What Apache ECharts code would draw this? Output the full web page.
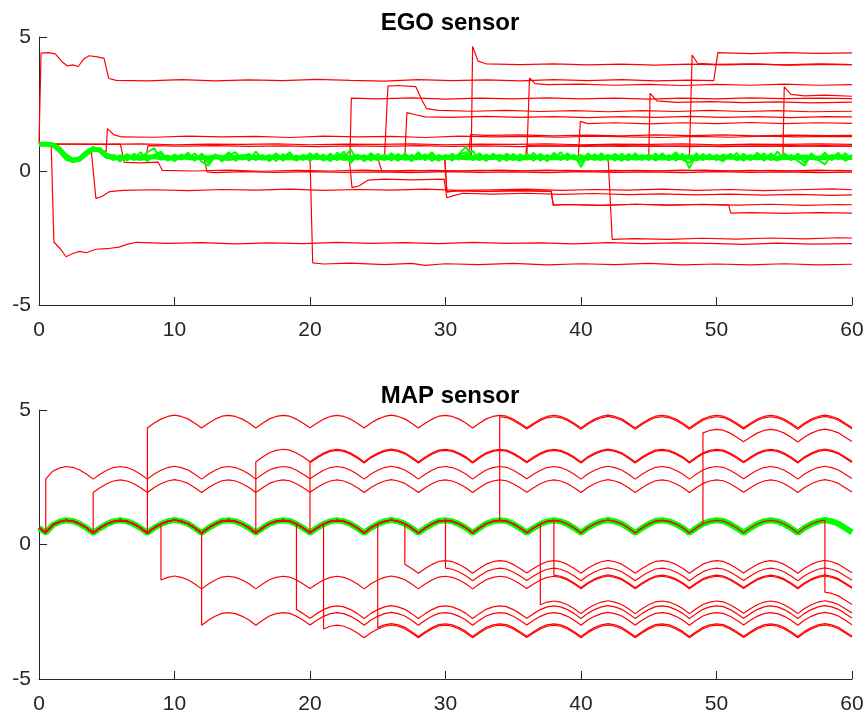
<!DOCTYPE html>
<html><head><meta charset="utf-8">
<script src="https://cdn.jsdelivr.net/npm/echarts@6/dist/echarts.min.js"></script>
<style>html,body{margin:0;padding:0;background:#fff}#c{width:866px;height:715px}</style>
</head><body><div id="c"></div>
<script>
const titles = ['EGO sensor', 'MAP sensor'];
const xMin = 0, xMax = 60, xStep = 10;
const yMin = -5, yMax = 5, yStep = 5;
const sampleStep = 0.5;

// EGO nominal (green band centre), samples every 0.5 s from 0 to 60
const egoNominal = [1.0,1.0,0.98,0.82,0.52,0.4,0.45,0.68,0.82,0.78,0.55,
0.5,0.48,0.52,0.5,0.47,0.51,0.53,0.49,0.5,0.47,
0.52,0.5,0.48,0.51,0.49,0.53,0.5,0.47,0.5,0.52,
0.49,0.51,0.48,0.5,0.53,0.49,0.5,0.47,0.51,0.5,
0.52,0.48,0.5,0.51,0.47,0.5,0.53,0.49,0.5,0.48,
0.51,0.5,0.52,0.48,0.5,0.49,0.53,0.5,0.47,0.51,
0.5,0.52,0.49,0.5,0.48,0.51,0.5,0.53,0.49,0.5,
0.47,0.51,0.5,0.52,0.48,0.5,0.49,0.53,0.5,0.48,
0.51,0.5,0.47,0.52,0.5,0.49,0.51,0.48,0.5,0.53,
0.49,0.5,0.48,0.51,0.5,0.52,0.47,0.5,0.51,0.49,
0.5,0.53,0.48,0.5,0.51,0.49,0.52,0.5,0.47,0.51,
0.5,0.49,0.52,0.5,0.48,0.51,0.5,0.53,0.49,0.5];
const egoNoiseA = [1.0,0.99,0.95,0.7,0.42,0.33,0.4,0.62,0.78,0.86,0.6,
0.4,0.6,0.38,0.65,0.45,0.7,0.85,0.42,0.58,0.36,
0.62,0.44,0.66,0.35,0.2,0.55,0.4,0.64,0.46,0.6,
0.38,0.72,0.45,0.6,0.37,0.63,0.43,0.58,0.4,0.66,
0.44,0.62,0.36,0.68,0.47,0.8,0.42,0.6,0.38,0.64,
0.45,0.6,0.37,0.66,0.43,0.7,0.4,0.62,0.46,0.58,
0.38,0.64,0.9,0.45,0.6,0.37,0.65,0.44,0.6,0.4,
0.63,0.42,0.68,0.38,0.6,0.45,0.7,0.4,0.62,0.15,
0.6,0.4,0.66,0.44,0.62,0.37,0.64,0.46,0.6,0.4,
0.65,0.42,0.6,0.38,0.66,0.1,0.6,0.44,0.63,0.4,
0.62,0.45,0.67,0.38,0.6,0.43,0.66,0.4,0.72,0.45,
0.6,0.38,0.2,0.62,0.44,0.68,0.4,0.63,0.45,0.6];
const egoNoiseB = [1.0,1.02,0.99,0.9,0.62,0.45,0.5,0.72,0.9,0.7,0.48,
0.6,0.42,0.63,0.4,0.58,0.36,0.6,0.72,0.4,0.62,
0.43,0.6,0.38,0.65,0.42,0.6,0.35,0.58,0.7,0.42,
0.62,0.4,0.58,0.44,0.66,0.38,0.62,0.46,0.6,0.37,
0.6,0.42,0.65,0.4,0.62,0.3,0.58,0.43,0.66,0.4,
0.62,0.38,0.64,0.42,0.6,0.45,0.63,0.37,0.6,0.44,
0.65,0.42,0.6,0.75,0.4,0.62,0.44,0.6,0.38,0.64,
0.42,0.6,0.38,0.64,0.45,0.62,0.4,0.66,0.42,0.6,
0.4,0.63,0.44,0.6,0.38,0.65,0.42,0.62,0.4,0.6,
0.44,0.66,0.4,0.62,0.45,0.6,0.38,0.64,0.42,0.6,
0.45,0.62,0.4,0.64,0.43,0.6,0.38,0.66,0.42,0.62,
0.4,0.64,0.45,0.6,0.42,0.25,0.6,0.44,0.66,0.42];
const egoNoiseC = [1.0,0.97,0.92,0.78,0.5,0.36,0.38,0.58,0.75,0.82,0.65,
0.55,0.35,0.62,0.48,0.7,0.4,0.56,0.66,0.38,0.6,
0.48,0.68,0.42,0.58,0.3,0.62,0.46,0.7,0.38,0.55,
0.64,0.42,0.6,0.36,0.62,0.5,0.7,0.38,0.58,0.45,
0.66,0.38,0.58,0.46,0.72,0.4,0.6,0.36,0.64,0.5,
0.4,0.66,0.48,0.6,0.36,0.64,0.46,0.7,0.38,0.6,
0.48,0.62,0.7,0.4,0.66,0.46,0.58,0.36,0.65,0.5,
0.38,0.64,0.46,0.6,0.36,0.68,0.44,0.58,0.48,0.3,
0.66,0.46,0.58,0.38,0.64,0.5,0.4,0.66,0.44,0.6,
0.38,0.6,0.48,0.7,0.42,0.3,0.66,0.4,0.58,0.48,
0.36,0.64,0.46,0.6,0.4,0.68,0.48,0.58,0.38,0.66,
0.46,0.6,0.3,0.66,0.4,0.58,0.48,0.68,0.38,0.55];

// EGO faulty runs: [time, value] points from the moment each one leaves the band
const egoFaultA = [[0,1],[0.15,4.4],[0.7,4.42],[1.2,4.37],[1.7,4.08],[2.1,3.92],[2.5,3.96],[2.9,3.9],[3.3,4.18],[3.7,4.3],[4.3,4.26],[4.8,4.2],[5.15,3.45],[5.7,3.38],[8,3.36],[10.5,3.41],[13,3.36],[15.5,3.4],[18,3.37],[20.5,3.42],[23,3.38],[25.5,3.35],[28,3.41],[30.5,3.37],[33,3.4],[35.5,3.36],[38,3.41],[40.5,3.37],[43,3.41],[45.5,3.36],[48,3.39],[49.8,3.37],[50.1,4.42],[52.5,4.38],[55,4.42],[57.5,4.39],[60,4.41]];
const egoFaultB = [[0.9,0.99],[1.1,-2.65],[1.6,-2.92],[2.0,-3.2],[2.5,-3.08],[3.0,-3.0],[3.5,-3.05],[4.2,-2.92],[5.0,-2.9],[5.9,-2.84],[6.5,-2.74],[7.2,-2.66],[9.5,-2.7],[12,-2.67],[14.5,-2.72],[17,-2.68],[19.5,-2.71],[22,-2.66],[24.5,-2.7],[27,-2.67],[29.5,-2.71],[32,-2.66],[34.5,-2.7],[37,-2.68],[39.5,-2.72],[42,-2.67],[44.5,-2.71],[47,-2.68],[49.5,-2.7],[52,-2.74],[54.5,-2.69],[57,-2.73],[60,-2.71]];
const egoFaultC = [[3.85,0.8],[4.2,-1.02],[4.6,-0.96],[5.2,-0.77],[6.2,-0.72],[8.5,-0.7],[11,-0.73],[13.5,-0.69],[16,-0.71],[18.5,-0.68],[21,-0.72],[23.5,-0.69],[26,-0.71],[28.5,-0.68],[31,-0.72],[33.5,-0.7],[36,-0.68],[38.5,-0.72],[41,-0.69],[43.5,-0.71],[46,-0.68],[48.5,-0.72],[51,-0.69],[53.5,-0.73],[56,-0.7],[58.5,-0.67],[60,-0.7]];
const egoFaultD = [[4.95,0.72],[5.05,1.58],[5.5,1.36],[6.1,1.27],[8.5,1.26],[11,1.3],[13.5,1.27],[16,1.29],[18.5,1.25],[21,1.3],[23.5,1.27],[26,1.29],[28.5,1.25],[31,1.3],[33.5,1.27],[36,1.29],[38.5,1.26],[41,1.3],[43.5,1.27],[46,1.25],[48.5,1.29],[51,1.26],[53.5,1.3],[56,1.27],[58.5,1.29],[60,1.28]];
const egoFaultE = [[0,1],[2.5,1.0],[5,0.99],[7.5,1.01],[10,0.98],[12.5,1.0],[15,0.99],[17.5,1.01],[20,0.98],[22.5,1.0],[25,0.99],[27.5,1.01],[30,0.98],[32.5,1.0],[35,0.99],[37.5,1.01],[40,0.98],[42.5,1.0],[45,0.99],[47.5,1.01],[50,0.98],[52.5,1.0],[55,0.99],[57.5,1.01],[60,0.99]];
const egoFaultE2 = [[7.9,0.55],[8.05,0.95],[10.5,0.93],[13,0.95],[15.5,0.92],[18,0.94],[20.5,0.91],[23,0.94],[25.5,0.92],[28,0.95],[30.5,0.92],[33,0.94],[35.5,0.91],[38,0.94],[40.5,0.92],[43,0.95],[45.5,0.92],[48,0.94],[50.5,0.91],[53,0.94],[55.5,0.92],[58,0.95],[60,0.93]];
const egoFaultF = [[0,1],[3,1.0],[6.0,1.0],[6.3,0.32],[7.5,0.3],[8.8,0.33],[9.1,0.02],[11.5,0.0],[14,0.03],[16.5,-0.01],[19,0.02],[21.5,0.0],[24,0.03],[26.5,-0.01],[29,0.02],[31.5,0.0],[34,0.03],[36.5,0.0],[39,0.02],[41.5,-0.01],[44,0.02],[46.5,0.0],[49,0.03],[51.5,0.0],[54,0.02],[56.5,-0.01],[59,0.02],[60,0.01]];
const egoFaultG = [[12.2,0.45],[12.4,-0.03],[13,-0.06],[15,-0.02],[17.5,-0.05],[20,-0.02],[22.5,-0.05],[25,-0.03],[27.5,-0.06],[30,-0.02],[32.5,-0.05],[35,-0.03],[37.5,-0.06],[40,-0.02],[42.5,-0.05],[45,-0.03],[47.5,-0.06],[50,-0.02],[52.5,-0.05],[55,-0.03],[57.5,-0.06],[60,-0.04]];
const egoFaultI = [[20.0,0.5],[20.2,-3.43],[21,-3.47],[23,-3.44],[25.5,-3.49],[27.5,-3.45],[28.5,-3.52],[30,-3.46],[32.5,-3.49],[35,-3.45],[37.5,-3.5],[40,-3.46],[42.5,-3.49],[45,-3.45],[47.5,-3.5],[50,-3.47],[52.5,-3.5],[55,-3.46],[57.5,-3.5],[60,-3.48]];
const egoFaultJ = [[22.95,0.5],[23.05,2.72],[25,2.69],[27.5,2.73],[30,2.68],[32.5,2.72],[35,2.69],[37.5,2.73],[40,2.69],[42.5,2.72],[45,2.68],[47.5,2.72],[50,2.69],[52.5,2.73],[55,2.7],[57.5,2.72],[60,2.7]];
const egoFaultK = [[22.9,0.45],[23.1,-0.62],[23.6,-0.56],[24.3,-0.34],[25.5,-0.3],[27.5,-0.33],[29.9,-0.3],[30.1,-1.0],[30.6,-0.92],[31.3,-0.83],[33.5,-0.86],[36,-0.83],[38.5,-0.87],[41,-0.84],[43.5,-0.88],[46,-0.85],[48.5,-0.89],[51,-0.86],[53.5,-0.9],[56,-0.87],[58.5,-0.91],[60,-0.89]];
const egoFaultM = [[25.6,0.5],[25.75,3.17],[26.5,3.19],[27.8,3.15],[28.3,2.6],[28.6,2.33],[29.5,2.26],[32,2.23],[34.5,2.26],[37,2.22],[39.5,2.25],[42,2.21],[44.5,2.25],[47,2.22],[49.5,2.26],[52,2.22],[54.5,2.25],[57,2.21],[60,2.23]];
const egoFaultN = [[27.0,0.5],[27.15,2.18],[27.8,2.1],[28.5,2.02],[30.5,2.0],[33,2.04],[35.5,2.0],[38,2.03],[40.5,1.99],[43,2.03],[45.5,2.0],[48,2.04],[50.5,2.0],[53,2.03],[55.5,1.99],[58,2.03],[60,2.02]];
const egoFaultO = [[25.1,0.45],[25.3,0.0],[27.5,0.02],[30,-0.01],[32.5,0.02],[35,0.0],[37.5,0.03],[40,-0.01],[42.5,0.02],[45,0.0],[47.5,0.03],[50,-0.01],[52.5,0.02],[55,0.0],[57.5,0.03],[60,0.0]];
const egoFaultQ = [[31.9,0.5],[32.0,4.65],[32.4,4.1],[33,4.0],[35.5,3.97],[38,4.0],[40.5,3.96],[43,3.99],[45.5,3.95],[48,3.99],[50.5,3.96],[53,3.99],[55.5,3.95],[58,3.98],[60,3.97]];
const egoFaultR = [[31.7,0.5],[31.85,1.36],[33,1.33],[35.5,1.35],[38,1.31],[40.5,1.34],[43,1.31],[45.5,1.35],[48,1.32],[50.5,1.35],[53,1.31],[55.5,1.34],[58,1.32],[60,1.33]];
const egoFaultS = [[36.05,0.5],[36.2,3.47],[36.6,3.26],[37.5,3.22],[40,3.24],[42.5,3.2],[45,3.23],[47.5,3.19],[50,3.23],[52.5,3.2],[55,3.24],[57.5,3.2],[60,3.22]];
const egoFaultT = [[35.9,0.5],[36.0,0.95],[38,0.93],[40.5,0.95],[43,0.92],[45.5,0.94],[48,0.91],[50.5,0.94],[53,0.92],[55.5,0.95],[58,0.92],[60,0.93]];
const egoFaultU = [[29.95,0.45],[30.1,-0.78],[31,-0.73],[33,-0.76],[35.5,-0.73],[37.8,-0.76],[37.95,-1.27],[39,-1.25],[41.5,-1.28],[44,-1.24],[46.5,-1.27],[49,-1.24],[51.5,-1.27],[54,-1.24],[56.5,-1.28],[59,-1.25],[60,-1.26]];
const egoFaultV = [[29.95,0.45],[30.1,-0.78],[31,-0.73],[33,-0.76],[35.5,-0.73],[37.8,-0.76],[37.95,-1.27],[39,-1.25],[41.5,-1.28],[44,-1.24],[46.5,-1.27],[48.5,-1.25],[50.9,-1.27],[51.05,-1.57],[52.5,-1.55],[55,-1.58],[57.5,-1.55],[60,-1.57]];
const egoFaultW = [[39.8,0.5],[39.95,1.85],[40.5,1.77],[42.5,1.8],[45,1.76],[47.5,1.8],[50,1.77],[52.5,1.81],[55,1.77],[57.5,1.8],[60,1.78]];
const egoFaultX = [[42.1,0.5],[42.3,-2.55],[44,-2.52],[46.5,-2.55],[49,-2.51],[51.5,-2.54],[54,-2.5],[56.5,-2.53],[59,-2.49],[60,-2.5]];
const egoFaultY = [[45.0,0.5],[45.1,2.9],[45.6,2.62],[47,2.56],[49.5,2.59],[52,2.55],[54.5,2.58],[57,2.54],[60,2.57]];
const egoFaultZ = [[48.1,0.5],[48.2,4.33],[48.6,4.02],[50,3.98],[52.5,4.0],[55,3.96],[57.5,4.0],[60,3.97]];
const egoFaultAA = [[54.9,0.5],[55.0,3.14],[55.5,2.86],[56.5,2.8],[58,2.83],[60,2.79]];
const egoFaults = [egoFaultA,egoFaultB,egoFaultC,egoFaultD,egoFaultE,egoFaultE2,egoFaultF,egoFaultG,egoFaultI,egoFaultJ,egoFaultK,egoFaultM,egoFaultN,egoFaultO,egoFaultQ,egoFaultR,egoFaultS,egoFaultT,egoFaultU,egoFaultV,egoFaultW,egoFaultX,egoFaultY,egoFaultZ,egoFaultAA];

// MAP nominal (green), samples every 0.5 s from 0 to 60
const mapNominal = [0.62,0.44,0.72,0.84,0.9,0.87,0.77,0.62,
0.43,0.61,0.76,0.86,0.9,0.86,0.76,0.61,
0.43,0.62,0.76,0.86,0.91,0.86,0.77,0.61,
0.43,0.61,0.76,0.87,0.9,0.86,0.76,0.62,
0.43,0.61,0.77,0.86,0.9,0.87,0.76,0.61,
0.44,0.61,0.76,0.86,0.9,0.86,0.76,0.61,
0.43,0.62,0.76,0.86,0.91,0.86,0.77,0.61,
0.43,0.61,0.76,0.87,0.9,0.86,0.76,0.62,
0.43,0.61,0.77,0.86,0.9,0.87,0.76,0.61,
0.44,0.61,0.76,0.86,0.9,0.86,0.76,0.61,
0.43,0.62,0.76,0.86,0.91,0.86,0.77,0.61,
0.43,0.61,0.76,0.87,0.9,0.86,0.76,0.62,
0.43,0.61,0.77,0.86,0.9,0.87,0.76,0.61,
0.44,0.61,0.76,0.86,0.9,0.86,0.76,0.61,
0.43,0.62,0.76,0.86,0.91,0.86,0.77,0.61,
0.45];
// MAP faulty runs: time of the step and level shift
const mapFaultTimes   = [0.5, 4, 8, 9, 12, 16, 19, 20, 21, 25, 27, 30, 34, 37, 38, 49, 58];
const mapFaultOffsets = [2.0, 1.5, 3.9, -2.08, -3.43, 2.64, -3.18, 2.6, -3.9, -3.85, -1.5, -1.78, 3.85, -3.0, -2.04, 3.38, -2.68];

const RED = '#ff0000', GREEN = '#00ff00', AX = '#262626';
const FONT = 'Liberation Sans, Arial, Helvetica, sans-serif';

function sampled(arr) { return arr.map((v, i) => [i * sampleStep, v]); }
function egoRun(pts) {
  const t0 = pts[0][0];
  return sampled(egoNominal).filter(p => p[0] < t0).concat(pts);
}
function mapRun(t, off) {
  const k = Math.round(t / sampleStep);
  const d = [];
  for (let i = 0; i <= k; i++) d.push([i * sampleStep, mapNominal[i]]);
  d.push([k * sampleStep, +(mapNominal[k] + off).toFixed(3)]);
  for (let i = k + 1; i < mapNominal.length; i++) d.push([i * sampleStep, +(mapNominal[i] + off).toFixed(3)]);
  return d;
}

const series = [];
function line(idx, data, color, width, z) {
  series.push({type: 'line', xAxisIndex: idx, yAxisIndex: idx, data, showSymbol: false, symbol: 'none',
    silent: true, animation: false, z, lineStyle: {color, width}});
}
egoFaults.forEach(f => line(0, egoRun(f), RED, 1.2, 2));
line(0, sampled(egoNominal), GREEN, 5, 3);
line(0, sampled(egoNoiseA), GREEN, 2, 3);
line(0, sampled(egoNoiseB), GREEN, 2, 3);
line(0, sampled(egoNoiseC), GREEN, 2, 3);

line(1, sampled(mapNominal), GREEN, 6, 2);
mapFaultTimes.forEach((t, i) => line(1, mapRun(t, mapFaultOffsets[i]), RED, 1.2, 3));

function xAx(idx) {
  return {gridIndex: idx, type: 'value', min: xMin, max: xMax, interval: xStep,
    axisLine: {show: true, onZero: false, lineStyle: {color: AX, width: 1}},
    axisTick: {show: true, inside: true, length: 8, lineStyle: {color: AX}},
    axisLabel: {fontSize: 21, color: AX, fontFamily: FONT, margin: 15},
    splitLine: {show: false}};
}
function yAx(idx) {
  return {gridIndex: idx, type: 'value', min: yMin, max: yMax, interval: yStep,
    axisLine: {show: true, onZero: false, lineStyle: {color: AX, width: 1}},
    axisTick: {show: true, inside: true, length: 8, lineStyle: {color: AX}},
    axisLabel: {fontSize: 21, color: AX, fontFamily: FONT, margin: 8},
    splitLine: {show: false}};
}

const chart = echarts.init(document.getElementById('c'), null, {renderer: 'canvas'});
chart.setOption({
  animation: false,
  backgroundColor: '#ffffff',
  title: [
    {text: titles[0], left: 445, top: 6, textAlign: 'center', textStyle: {fontSize: 24, fontWeight: 'bold', color: '#000', fontFamily: FONT}},
    {text: titles[1], left: 445, top: 379, textAlign: 'center', textStyle: {fontSize: 24, fontWeight: 'bold', color: '#000', fontFamily: FONT}}
  ],
  grid: [
    {left: 39, top: 37, width: 813, height: 268, outerBoundsMode: 'none', containLabel: false},
    {left: 39, top: 410, width: 813, height: 269, outerBoundsMode: 'none', containLabel: false}
  ],
  xAxis: [xAx(0), xAx(1)],
  yAxis: [yAx(0), yAx(1)],
  series
});
</script>
</body></html>
